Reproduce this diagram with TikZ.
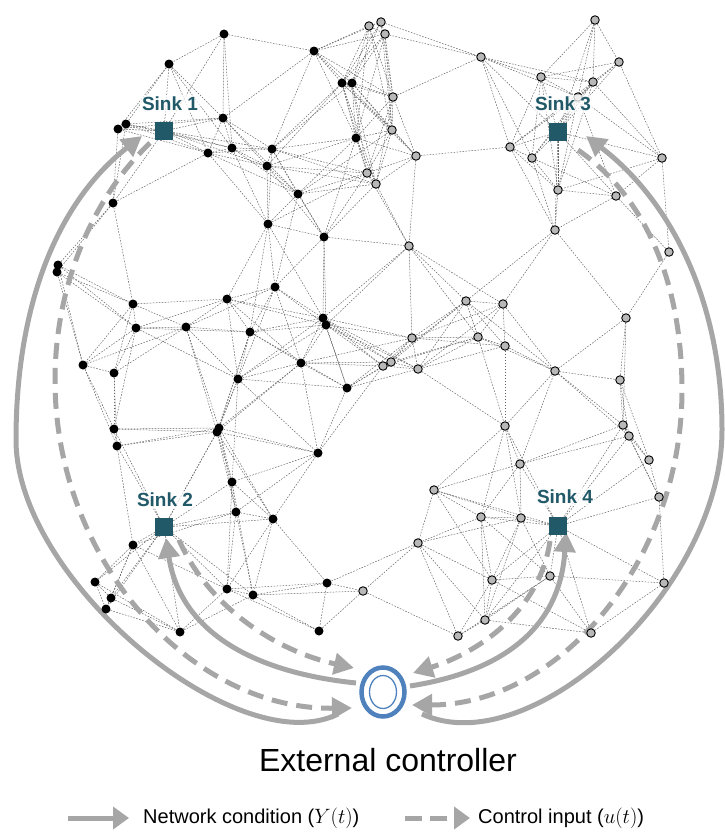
\documentclass[tikz,border=0pt]{standalone}
\usepackage{fontspec}
\setmainfont{Liberation Sans}
\usetikzlibrary{arrows.meta,shapes.geometric}
\definecolor{flowgray}{HTML}{A6A6A6}
\definecolor{sinkteal}{HTML}{215968}
\definecolor{ctrlblue}{HTML}{4F81BD}
\definecolor{nodegray}{HTML}{B8B8B8}
\pgfdeclarelayer{links}
\pgfdeclarelayer{flows}
\pgfsetlayers{links,flows,main}

% sensor nodes: x/y/kind (b = black, g = grey)
\def\netnodes{224/34/b,169/64/b,314/51/b,223/118/b,118/129/b,126/124/b,208/153/b,232/148/b,272/149/b,267/166/b,113/203/b,298/194/b,342/83/b,352/83/b,356/138/b,58/265/b,57/272/b,133/304/b,136/328/b,186/327/b,227/299/b,250/332/b,83/365/b,114/373/b,238/379/b,268/224/b,324/237/b,275/287/b,323/318/b,326/325/b,301/363/b,347/388/b,114/429/b,117/446/b,217/432/b,219/428/b,318/453/b,232/482/b,236/512/b,273/519/b,133/545/b,95/582/b,111/598/b,106/609/b,180/632/b,227/589/b,253/595/b,327/583/b,319/631/b,369/26/g,381/22/g,385/34/g,393/97/g,392/130/g,416/156/g,367/173/g,376/184/g,481/57/g,595/20/g,619/62/g,541/77/g,593/82/g,578/97/g,510/147/g,532/158/g,662/158/g,558/190/g,616/196/g,409/246/g,466/301/g,503/304/g,555/230/g,669/252/g,626/318/g,412/338/g,478/337/g,505/346/g,383/366/g,391/362/g,418/369/g,555/371/g,620/380/g,505/426/g,623/425/g,629/436/g,520/464/g,649/460/g,659/497/g,434/490/g,481/517/g,521/518/g,418/543/g,363/591/g,458/636/g,485/620/g,492/580/g,550/576/g,591/633/g,664/583/g}
% sinks: index/x/y
\def\sinklist{1/164/131,2/164/527,3/558/132,4/558/526}
\def\linkrange{115}
\def\sinkrange{135}

\begin{document}
\begin{tikzpicture}[x=1pt,y=-1pt,
  nb/.style={circle,fill=black,inner sep=0pt,minimum size=9pt},
  ng/.style={circle,fill=nodegray,draw=black,line width=0.9pt,inner sep=0pt,minimum size=8.5pt},
  sinkbox/.style={rectangle,fill=sinkteal,inner sep=0pt,minimum size=18pt},
  sinklabel/.style={text=sinkteal,font=\fontsize{19}{21}\selectfont\bfseries,
    fill=white,fill opacity=0.75,text opacity=1,inner sep=2pt},
  link/.style={draw=black!60,line width=0.5pt,dash pattern=on 1.6pt off 1.4pt},
  flow/.style={draw=flowgray,line width=5pt,-{Triangle[length=20pt,width=21pt]}},
  ctrlflow/.style={flow,dash pattern=on 16pt off 9pt},
  legflow/.style={draw=flowgray,line width=5pt,-{Triangle[length=16pt,width=22pt]}},
]
\useasboundingbox (0,0) rectangle (725,833);

% nodes of the network
\foreach \x/\y/\t [count=\i] in \netnodes {
  \node[n\t] (n\i) at (\x,\y) {};
}
\foreach \s/\x/\y in \sinklist {
  \node[sinkbox] (s\s) at (\x,\y) {};
}

% radio links between nodes in range
\begin{pgfonlayer}{links}
\foreach \xa/\ya/\ta [count=\i] in \netnodes {
  \foreach \xb/\yb/\tb [count=\j] in \netnodes {
    \ifnum\j>\i\relax
      \pgfmathsetmacro\dd{veclen(\xa-\xb,\ya-\yb)}
      \ifdim\dd pt<\linkrange pt\relax
        \draw[link] (n\i) -- (n\j);
      \fi
    \fi
  }
}
\foreach \s/\xa/\ya in \sinklist {
  \foreach \xb/\yb/\tb [count=\j] in \netnodes {
    \pgfmathsetmacro\dd{veclen(\xa-\xb,\ya-\yb)}
    \ifdim\dd pt<\sinkrange pt\relax
      \draw[link] (s\s) -- (n\j);
    \fi
  }
}
\end{pgfonlayer}

% sink labels
\node[sinklabel] (l1) at (170,104) {Sink 1};
\node[sinklabel] (l2) at (165,500) {Sink 2};
\node[sinklabel] (l3) at (563,104) {Sink 3};
\node[sinklabel] (l4) at (565,497) {Sink 4};

% external controller
\node[ellipse,draw=ctrlblue,line width=4.5pt,minimum width=43pt,minimum height=49pt,inner sep=0pt] (ctrl) at (383,692) {};
\node[ellipse,draw=ctrlblue,line width=1.3pt,minimum width=27pt,minimum height=33pt,inner sep=0pt] (ctrlin) at (383,692) {};
\node[font=\fontsize{32}{36}\selectfont] (ctrltext) at (388,760) {External controller};

% end points of the flows around the controller and the sinks
\coordinate (c1o) at (338,714);
\coordinate (c1i) at (352,708);
\coordinate (c2o) at (356,683);
\coordinate (c2i) at (354,668);
\coordinate (c4o) at (410,686);
\coordinate (c4i) at (413,673);
\coordinate (c3o) at (422,714);
\coordinate (c3i) at (412,705);
\coordinate (t1) at (142,136);
\coordinate (f1) at (150,143);
\coordinate (t2) at (166,538);
\coordinate (f2) at (179,540);
\coordinate (t3) at (586,136);
\coordinate (f3) at (578,150);
\coordinate (t4) at (566,532);
\coordinate (f4) at (550,541);

\begin{pgfonlayer}{flows}
% network condition (solid)
\draw[flow] (c1o) .. controls (238,764) and (16,580) .. (16,440)
                  .. controls (16,300) and (60,200) .. (t1);
\draw[flow] (c2o) .. controls (250,672) and (180,630) .. (t2);
\draw[flow] (c4o) .. controls (500,672) and (560,630) .. (t4);
\draw[flow] (c3o) .. controls (530,764) and (722,590) .. (722,430)
                  .. controls (722,300) and (670,200) .. (t3);
% control input (dashed)
\draw[ctrlflow] (f1) .. controls (90,200) and (55,290) .. (55,380)
                     .. controls (55,560) and (190,710) .. (c1i);
\draw[ctrlflow] (f2) .. controls (210,610) and (280,652) .. (c2i);
\draw[ctrlflow] (f4) .. controls (540,610) and (480,652) .. (c4i);
\draw[ctrlflow] (f3) .. controls (650,200) and (682,290) .. (682,390)
                     .. controls (682,560) and (560,705) .. (c3i);
\end{pgfonlayer}

% legend
\coordinate (g1a) at (68,818);
\coordinate (g1b) at (129,818);
\coordinate (g2a) at (405,818);
\coordinate (g2b) at (470,818);
\draw[legflow] (g1a) -- (g1b);
\draw[legflow,dash pattern=on 17pt off 8pt] (g2a) -- (g2b);
\node[anchor=west,font=\fontsize{20}{22}\selectfont,inner sep=0pt] (g1t) at (143,818) {Network condition ($Y(t)$)};
\node[anchor=west,font=\fontsize{20}{22}\selectfont,inner sep=0pt] (g2t) at (478,818) {Control input ($u(t)$)};
\end{tikzpicture}
\end{document}
